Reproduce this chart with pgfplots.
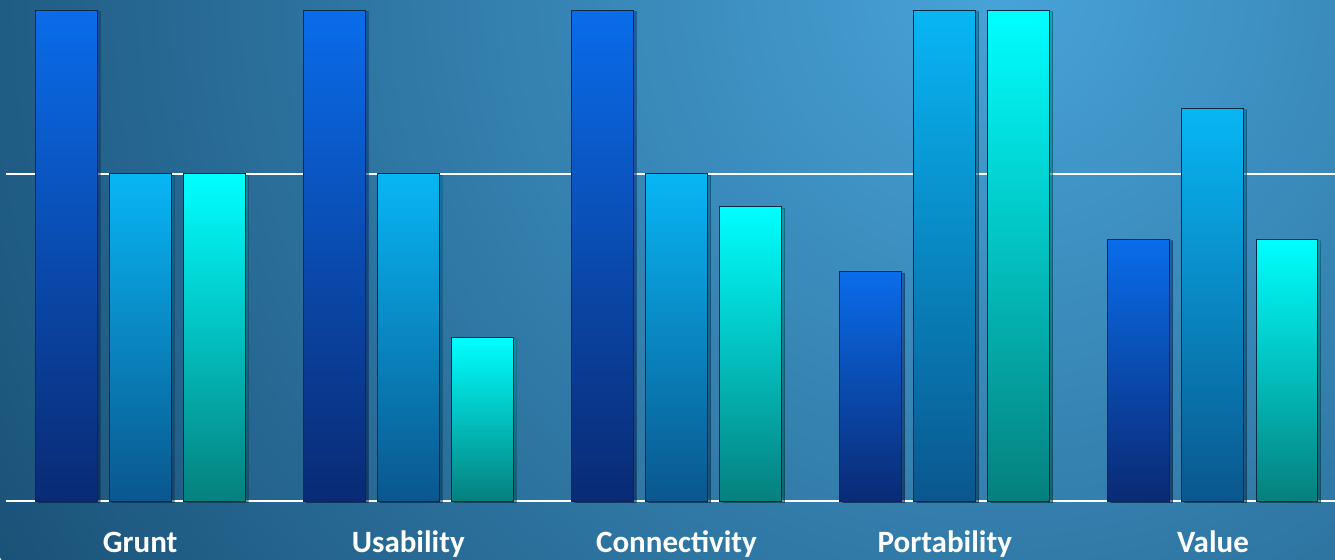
\documentclass[border=0pt]{standalone}
\usepackage{pgfplots}
\pgfplotsset{compat=1.18}
\usepackage{pgfplotstable}
\usepackage{fontspec}
\setmainfont{Carlito}
\usetikzlibrary{shadows}

\definecolor{bgin}{HTML}{48A3D8}
\definecolor{bgout}{HTML}{1A5278}
\definecolor{edge}{HTML}{0D2A45}
\definecolor{aTop}{HTML}{0A6CEA}
\definecolor{aBot}{HTML}{0A2A74}
\definecolor{bTop}{HTML}{08B6F4}
\definecolor{bBot}{HTML}{0A578E}
\definecolor{cTop}{HTML}{00FFFF}
\definecolor{cBot}{HTML}{05807E}

% scores per category
\pgfplotstableread{
cat  a    b    c
0    3    2    2
1    3    2    1
2    3    2    1.8
3    1.4  3    3
4    1.6  2.4  1.6
}\scores

\begin{document}
\begin{tikzpicture}
\useasboundingbox (0,0) rectangle (667.5pt,279.5pt);
\clip (0,0) rectangle (667.5pt,279.5pt);
\shade[inner color=bgin, outer color=bgout] (500pt,285pt) circle (575pt);
\begin{axis}[
  at={(3pt,29pt)}, anchor=south west,
  width=664.5pt, height=245.5pt, scale only axis,
  xmin=-0.5, xmax=4.455,
  ymin=0, ymax=3,
  clip=false,
  axis line style={draw=none},
  major tick length=0pt,
  xtick={0,1,2,3,4},
  xticklabels={Grunt,Usability,Connectivity,Portability,Value},
  xticklabel style={anchor=base, yshift=-25.5pt, text=white,
    font=\fontsize{15.5}{18}\selectfont\bfseries},
  ytick={0,2}, yticklabels={},
  ymajorgrids=true,
  grid style={white, line width=1pt},
  bar width=0.231,
  barstyle/.style={ybar, draw=edge, line width=0.5pt,
    drop shadow={shadow xshift=1.5pt, shadow yshift=-0.8pt, opacity=0.35, fill=black}},
]
% one plot per bar so that each bar gets its own gradient
\pgfplotsinvokeforeach{0,1,2,3,4}{
  \addplot[barstyle, bar shift=-0.276, top color=aTop, bottom color=aBot,
    restrict x to domain=#1:#1] table[x=cat, y=a] {\scores};
  \addplot[barstyle, bar shift=0, top color=bTop, bottom color=bBot,
    restrict x to domain=#1:#1] table[x=cat, y=b] {\scores};
  \addplot[barstyle, bar shift=0.276, top color=cTop, bottom color=cBot,
    restrict x to domain=#1:#1] table[x=cat, y=c] {\scores};
}
\end{axis}
\end{tikzpicture}
\end{document}
